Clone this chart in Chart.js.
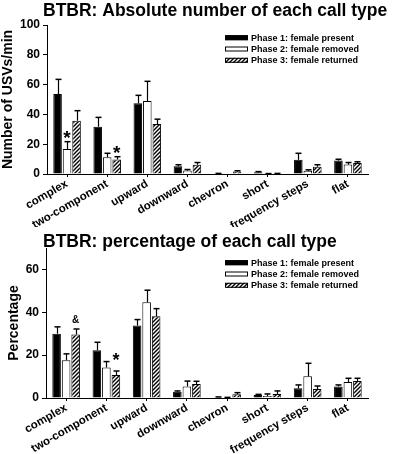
<!DOCTYPE html>
<html>
<head>
<meta charset="utf-8">
<script src="https://cdn.jsdelivr.net/npm/chart.js@4.4.0/dist/chart.umd.min.js"></script>
<style>
    body { margin: 0; background: #fff; }
    .panel { position: absolute; left: 0; width: 397px; height: 227px; }
</style>
</head>
<body>
<div class="panel" style="top:0"><canvas id="absChart" width="397" height="227"></canvas></div>
<div class="panel" style="top:227px"><canvas id="pctChart" width="397" height="227"></canvas></div>
<script>
const categories = ["complex", "two-component", "upward", "downward", "chevron", "short", "frequency steps", "flat"];
const phaseLabels = ["Phase 1: female present", "Phase 2: female removed", "Phase 3: female returned"];

// calls per minute
const absPhase1 = [53.7, 31.7, 47.4, 5.2, 0.3, 1.1, 9.5, 9.0];
const absPhase2 = [16.8, 11.2, 49.0, 2.3, 0.1, 0.2, 2.1, 6.3];
const absPhase3 = [35.8, 9.8, 33.5, 6.2, 1.6, 0.3, 4.9, 7.4];
const absErr1 = [9.8, 6.3, 5.4, 1.0, 0.1, 0.5, 4.4, 0.9];
const absErr2 = [4.9, 2.7, 13.2, 0.7, 0.0, 0.1, 0.7, 1.4];
const absErr3 = [6.7, 1.8, 3.3, 1.5, 0.6, 0.1, 1.3, 0.8];
const absTicks = [0, 20, 40, 60, 80, 100];

// percentage of all calls
const pctPhase1 = [30.0, 22.3, 33.8, 2.9, 0.4, 1.4, 4.5, 5.4];
const pctPhase2 = [17.6, 14.2, 44.7, 5.4, 0.2, 0.9, 10.1, 7.5];
const pctPhase3 = [29.6, 10.7, 38.1, 6.5, 1.7, 1.9, 4.2, 7.9];
const pctErr1 = [3.2, 3.7, 2.8, 0.4, 0.1, 0.3, 1.6, 0.7];
const pctErr2 = [3.0, 2.8, 5.6, 2.5, 0.1, 1.0, 6.1, 1.7];
const pctErr3 = [2.6, 1.9, 3.6, 1.3, 0.8, 1.4, 1.4, 1.3];
const pctTicks = [0, 20, 40, 60];

// significance marks: phase index, category index, symbol
const absMarks = [
    { phase: 1, cat: 0, text: "*" },
    { phase: 2, cat: 1, text: "*" },
];
const pctMarks = [
    { phase: 2, cat: 0, text: "&" },
    { phase: 2, cat: 1, text: "*" },
];

const FONT = "'Liberation Sans', Arial, sans-serif";

function makeHatch() {
    const c = document.createElement("canvas");
    c.width = 4;
    c.height = 4;
    const g = c.getContext("2d");
    g.fillStyle = "#fff";
    g.fillRect(0, 0, 4, 4);
    g.strokeStyle = "#000";
    g.lineWidth = 1.4;
    g.beginPath();
    g.moveTo(0, 4); g.lineTo(4, 0);
    g.moveTo(-1, 1); g.lineTo(1, -1);
    g.moveTo(3, 5); g.lineTo(5, 3);
    g.stroke();
    return g.createPattern(c, "repeat");
}

const errorBarPlugin = {
    id: "errorBars",
    afterDatasetsDraw(chart, args, opts) {
        const ctx = chart.ctx;
        const y = chart.scales.y;
        ctx.save();
        ctx.strokeStyle = "#000";
        chart.data.datasets.forEach((ds, i) => {
            chart.getDatasetMeta(i).data.forEach((bar, j) => {
                const err = opts.errors[i][j];
                if (!err) return;
                const top = y.getPixelForValue(ds.data[j] + err);
                const x = Math.round(bar.x) + 0.5;
                ctx.lineWidth = 1.2;
                ctx.beginPath();
                ctx.moveTo(x, bar.y);
                ctx.lineTo(x, top);
                ctx.stroke();
                ctx.lineWidth = 1.5;
                ctx.beginPath();
                ctx.moveTo(x - 3, top);
                ctx.lineTo(x + 3, top);
                ctx.stroke();
            });
        });
        ctx.restore();
    },
};

const panelTextPlugin = {
    id: "panelText",
    afterDraw(chart, args, opts) {
        const ctx = chart.ctx;
        ctx.save();
        ctx.fillStyle = "#000";
        ctx.textBaseline = "middle";
        ctx.textAlign = "left";
        ctx.font = `bold 17.5px ${FONT}`;
        ctx.fillText(opts.title, opts.titleX, opts.titleY);

        // legend
        ctx.font = `bold 9px ${FONT}`;
        chart.data.datasets.forEach((ds, i) => {
            const rowY = opts.legendY + i * 11.3;
            ctx.fillStyle = ds.backgroundColor;
            ctx.fillRect(opts.legendX, rowY - 2.5, 23, 5);
            ctx.strokeStyle = "#000";
            ctx.lineWidth = 1;
            ctx.strokeRect(opts.legendX + 0.5, rowY - 2, 22, 4);
            ctx.fillStyle = "#000";
            ctx.fillText(ds.label, opts.legendX + 26, rowY + 0.5);
        });

        // significance marks
        const y = chart.scales.y;
        ctx.textAlign = "center";
        ctx.textBaseline = "alphabetic";
        opts.marks.forEach((m) => {
            const bar = chart.getDatasetMeta(m.phase).data[m.cat];
            const val = chart.data.datasets[m.phase].data[m.cat];
            const top = y.getPixelForValue(val + opts.errors[m.phase][m.cat]);
            if (m.text === "&") {
                ctx.font = `bold 10px ${FONT}`;
                ctx.fillText(m.text, bar.x, top - 6);
            } else {
                ctx.font = `bold ${opts.starSize}px ${FONT}`;
                ctx.fillText(m.text, bar.x, top - opts.starLift);
            }
        });
        ctx.restore();
    },
};

function buildChart(id, cfg) {
    const hatch = makeHatch();
    const datasets = [
        { label: phaseLabels[0], data: cfg.series[0], backgroundColor: "#000" },
        { label: phaseLabels[1], data: cfg.series[1], backgroundColor: "#fff" },
        { label: phaseLabels[2], data: cfg.series[2], backgroundColor: hatch },
    ].map((d) => Object.assign(d, {
        borderColor: "#000",
        borderWidth: 1,
        categoryPercentage: 0.71,
        barPercentage: 0.9,
    }));

    return new Chart(document.getElementById(id), {
        type: "bar",
        data: { labels: categories, datasets: datasets },
        plugins: [errorBarPlugin, panelTextPlugin],
        options: {
            responsive: false,
            animation: false,
            layout: { padding: { top: cfg.top, right: 29, left: 0, bottom: 0 } },
            plugins: {
                legend: { display: false },
                tooltip: { enabled: false },
                errorBars: { errors: cfg.errors },
                panelText: {
                    title: cfg.title,
                    titleX: 43,
                    titleY: cfg.titleY,
                    legendX: 225,
                    legendY: cfg.legendY,
                    marks: cfg.marks,
                    errors: cfg.errors,
                    starSize: cfg.starSize,
                    starLift: cfg.starLift,
                },
            },
            scales: {
                x: {
                    afterFit: (scale) => { scale.height = cfg.xHeight; },
                    grid: { drawOnChartArea: false, offset: false, tickLength: 3, color: "#000" },
                    border: { color: "#000", width: 1 },
                    ticks: {
                        autoSkip: false,
                        minRotation: 30,
                        maxRotation: 30,
                        padding: 0,
                        color: "#000",
                        font: { family: FONT, size: 11.5, weight: "bold" },
                    },
                },
                y: {
                    min: 0,
                    max: cfg.max,
                    afterFit: (scale) => { scale.width = cfg.yWidth; },
                    afterBuildTicks: (scale) => {
                        scale.ticks = cfg.ticks.map((v) => ({ value: v }));
                    },
                    grid: { drawOnChartArea: false, tickLength: 4, color: "#000" },
                    border: { color: "#000", width: 1 },
                    ticks: {
                        padding: 3,
                        color: "#000",
                        font: { family: FONT, size: 12, weight: "bold" },
                    },
                    title: {
                        display: true,
                        text: cfg.yTitle,
                        color: "#000",
                        padding: { top: cfg.yTitlePad, bottom: 0 },
                        font: { family: FONT, size: 14, weight: "bold" },
                    },
                },
            },
        },
    });
}

buildChart("absChart", {
    title: "BTBR: Absolute number of each call type",
    titleY: 11,
    legendY: 37.7,
    top: 25,
    xHeight: 53,
    yWidth: 47,
    max: 100,
    ticks: absTicks,
    yTitle: "Number of USVs/min",
    yTitlePad: 0,
    series: [absPhase1, absPhase2, absPhase3],
    errors: [absErr1, absErr2, absErr3],
    marks: absMarks,
    starSize: 19,
    starLift: -2.5,
});

buildChart("pctChart", {
    title: "BTBR: percentage of each call type",
    titleY: 15.5,
    legendY: 35.7,
    top: 21,
    xHeight: 56,
    yWidth: 46,
    max: 70,
    ticks: pctTicks,
    yTitle: "Percentage",
    yTitlePad: 6,
    series: [pctPhase1, pctPhase2, pctPhase3],
    errors: [pctErr1, pctErr2, pctErr3],
    marks: pctMarks,
    starSize: 18,
    starLift: 4.7,
});
</script>
</body>
</html>
